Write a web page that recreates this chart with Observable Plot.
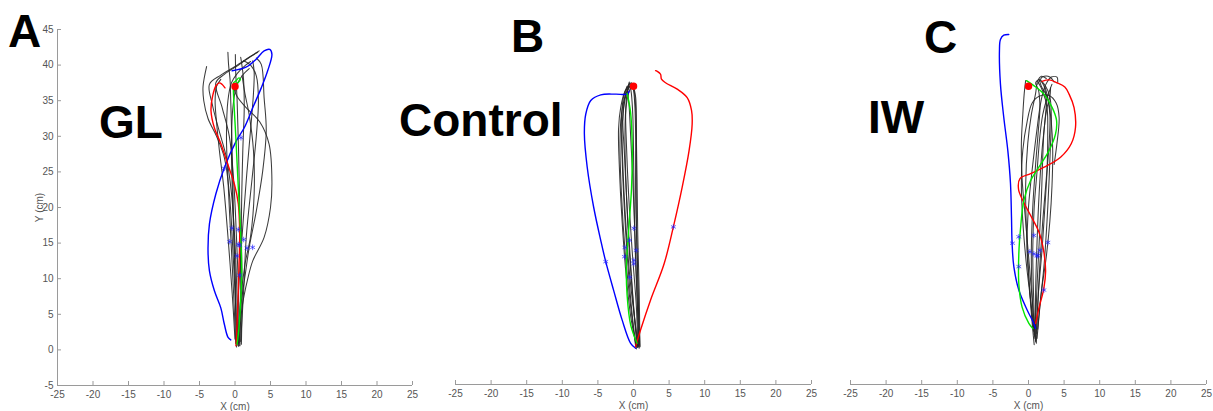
<!DOCTYPE html>
<html><head><meta charset="utf-8">
<script src="https://cdn.jsdelivr.net/npm/d3@7"></script>
<script src="https://cdn.jsdelivr.net/npm/@observablehq/plot@0.6"></script>
<style>
body{margin:0;background:#fff;}
#wrap{position:relative;width:1213px;height:411px;overflow:hidden;font-family:"Liberation Sans",Arial,sans-serif;}
#wrap svg{position:absolute;top:0;}
</style></head><body><div id="wrap"></div>
<script>
// ---------- axes ----------
const xDomain = [-25, 25];
const yDomain = [-5, 45];
const xTicks = [-25, -20, -15, -10, -5, 0, 5, 10, 15, 20, 25];
const yTicks = [-5, 0, 5, 10, 15, 20, 25, 30, 35, 40, 45];
const panelLetters = ["A", "B", "C"];
const conditionNames = ["GL", "Control", "IW"];
const target = [[0, 37]];

// ---------- Panel A (GL) ----------
const blackA = [
  [[0.3,0.8],[0.1,6],[-0.3,14],[-0.8,22],[-1.5,27],[-2.6,30],[-3.8,32.5],[-4.4,35],[-4.5,37],[-4.0,39.8]],
  [[0.5,0.5],[0.3,7],[0,15],[-0.5,22],[-1.2,27],[-2.3,31],[-3.2,34.5],[-3.6,37.3],[-2,38.6],[0,39.8],[2,41.1],[3.4,42.0]],
  [[0.6,0.6],[0.5,8],[0.2,16],[-0.2,24],[-0.8,30],[-1.8,34],[-2.7,37.5],[-1.5,38.7],[0.5,40],[2.2,41.2],[3.2,41.8]],
  [[0.2,1],[0.1,8],[-0.2,18],[-0.4,28],[-0.6,35],[-0.7,38],[-0.9,40],[-1.0,41.8]],
  [[0.7,0.6],[0.8,8],[0.7,18],[0.5,28],[0.3,35],[0.1,39],[0.05,41.5]],
  [[0.6,1],[1.0,6],[1.8,10],[2.5,12.5],[4.1,15.8],[5.0,20],[5.2,23.7],[4.8,28.9],[3.5,32],[1.6,34],[0.3,35.6],[-0.3,37.2]],
  [[0.4,1],[0.8,6],[1.5,11],[2.0,14.4],[3.0,19.5],[3.9,25.1],[4.4,30.8],[4.1,35.4],[3.7,40.1],[3.0,41]],
  [[0.3,0.6],[0.5,8],[1.0,16],[1.6,24],[2.2,31],[2.6,36],[2.7,39],[2.5,40.6]],
  [[0.1,0.9],[-0.2,8],[-0.6,16],[-1.0,24],[-1.2,30],[-1.0,35],[-0.5,37.5],[0.3,38.8],[1.5,40],[2.2,40.5]],
  [[0.8,1.2],[1.2,8],[1.6,16],[2.4,24],[3.0,30],[3.3,35],[3.0,38.5],[2.2,40],[1.2,40.6]],
  [[0.0,1.5],[-0.4,8],[-1.0,16],[-1.6,23],[-2.2,28],[-2.6,32],[-2.8,35],[-2.6,37],[-2.0,38]],
  [[0.9,0.8],[1.0,8],[0.9,18],[1.1,28],[1.3,34],[1.2,38],[0.9,40.5],[0.8,41.1]],
  [[0.2,0.4],[0.0,10],[-0.3,20],[-0.5,28],[-0.3,34],[0.2,37],[1.0,38.5],[2.0,39.5]],
  [[0.5,0.9],[0.7,6],[1.4,12],[2.2,16],[2.7,22],[2.6,28],[2.0,33],[1.4,36],[1.0,38.5]]
];
const blueA = [[-0.6,1.4],[-1.0,1.8],[-1.5,3.6],[-2.0,5.9],[-2.9,8.3],[-3.6,11.1],[-3.8,14],[-3.6,17.7],[-2.7,21.9],[-1.5,25.6],[0.2,29.4],[1.3,31.2],[2.5,34.0],[3.7,36.8],[4.6,39.2],[5.2,41.5],[4.9,42.2],[4.1,42.0],[2.95,40.8],[1.55,39.7],[-0.4,39.2]];
const redA = [[0.14,0.6],[0.23,2.2],[0.42,6.9],[0.56,11.6],[0.66,16.2],[0.47,20.5],[-0.09,23.3],[-1.03,26.1],[-1.97,28.9],[-2.91,31.2],[-3.38,33.6],[-3.14,35.7],[-2.67,37.1],[-2.2,37.5],[-1.83,37.3],[-1.41,36.8]];
const greenA = [[0.28,0.8],[0.47,2.2],[0.75,5.9],[0.94,10.6],[0.84,15.3],[0.61,20.0],[0.37,24.7],[0.14,29.4],[-0.09,33.6],[-0.23,36.6],[-0.19,37.5],[0.14,37.8],[0.56,38.2],[0.75,38.0],[0.47,37.6],[0.0,37.4]];
const starsA = [[0.84,29.8],[-1.5,25.5],[-0.42,17.1],[0.47,16.9],[-0.75,15.2],[0.47,14.8],[0.66,14.7],[1.22,15.5],[1.69,14.3],[2.48,14.4],[0.28,13.2],[0.66,10.5]];

// ---------- Panel B (Control) ----------
const blackB = [
  [[0.5,0.2],[-0.3,4],[-1.0,10],[-1.6,18],[-2.0,26],[-2.1,31],[-1.8,34],[-1.2,36.3],[-0.7,37]],
  [[0.7,0.3],[0.2,4],[-0.5,10],[-1.1,18],[-1.5,26],[-1.6,31],[-1.3,34.5],[-0.8,36.6],[-0.4,37.2]],
  [[0.8,0.1],[0.6,5],[0.3,12],[0.1,20],[0.0,28],[-0.1,33],[-0.3,36],[-0.5,37.3]],
  [[0.6,0.4],[0.4,6],[-0.2,14],[-0.7,22],[-1.0,29],[-1.1,33],[-0.9,36],[-0.5,37.4],[-0.1,37.2]],
  [[0.9,0.3],[0.7,6],[0.5,14],[0.3,22],[0.3,30],[0.2,34],[0,36.5],[-0.3,37.5]],
  [[0.4,0.0],[-0.2,5],[-0.8,12],[-1.3,20],[-1.6,27],[-1.7,32],[-1.4,35.5],[-0.9,37]],
  [[0.7,0.5],[0.5,8],[0.2,16],[-0.1,24],[-0.4,30],[-0.6,34],[-0.8,36.5],[-0.6,37.6]],
  [[0.5,0.3],[0.0,6],[-0.6,14],[-1.0,22],[-1.2,30],[-1.0,34.5],[-0.4,36.8],[0.1,37.4]],
  [[0.8,0.6],[0.6,10],[0.4,18],[0.4,26],[0.4,32],[0.3,35.5],[0.0,37]],
  [[0.6,0.2],[0.1,5],[-0.4,12],[-0.9,20],[-1.3,28],[-1.5,32],[-1.3,35],[-0.9,36.8],[-0.5,37.5]],
  [[0.3,0.4],[-0.4,6],[-1.2,14],[-1.7,22],[-1.9,29],[-1.7,33],[-1.1,35.8],[-0.5,37]],
  [[0.9,0.4],[0.8,8],[0.6,16],[0.5,24],[0.4,30],[0.3,34],[0.1,36.3],[-0.2,37.1]]
];
const blueB = [[0.3,0.1],[-0.4,0.8],[-1.6,4.1],[-2.8,8.3],[-3.9,12.3],[-4.6,15.3],[-5.6,20],[-6.5,25.6],[-6.9,30.3],[-6.7,33.1],[-6.0,35],[-4.6,35.8],[-2.5,35.9],[-0.9,35.9],[-0.6,36.3]];
const redB = [[0.28,0.3],[1.0,2.7],[2.4,6.9],[4.3,12.0],[5.6,17.2],[6.84,22.8],[7.8,27.9],[8.24,31.7],[8.15,33.6],[7.54,35.4],[6.14,36.6],[4.5,37.5],[3.93,38.0],[3.8,38.7],[3.33,39.1],[3.1,39.2]];
const greenB = [[0.5,0.8],[-0.4,3.4],[-0.9,7.6],[-1.0,11.8],[-0.66,17],[-0.28,22.6],[-0.18,28.7],[-0.42,33.4],[-0.9,36.0]];
const starsB = [[0.05,17.0],[-0.56,15.3],[-1.2,14.3],[0.38,13.9],[-1.26,13.0],[0.05,12.5],[0.05,12.0],[-0.52,10.1],[-3.9,12.3],[5.6,17.2]];

// ---------- Panel C (IW) ----------
const blackC = [
  [[1.0,1.0],[0.6,6],[0.1,12],[-0.4,18],[-0.9,24],[-1.0,29],[-0.8,33],[-0.6,36],[-0.4,37.8]],
  [[0.9,1.5],[0.4,6],[-0.3,12],[-0.8,18],[-1.0,23],[-0.8,28],[-0.2,32],[0.5,34.6],[1.5,35.6],[2.9,35.7],[3.9,34.6],[4.3,32.6],[4.0,29],[3.6,26]],
  [[1.1,0.8],[1.3,6],[1.6,12],[2.0,18],[2.5,24],[2.9,29],[3.0,33],[2.6,35.5],[1.8,37],[1.5,38]],
  [[1.0,1.2],[1.0,8],[1.2,15],[1.5,22],[1.9,28],[2.3,32],[2.5,35],[2.2,37],[1.7,38],[2.2,38.4],[3.0,38.3],[3.6,37.6]],
  [[0.8,2],[0.5,8],[0.4,14],[0.6,20],[1.0,26],[1.4,31],[1.6,34],[1.4,36.5],[1.0,37.5],[1.5,38]],
  [[1.2,1.5],[1.6,6],[2.2,12],[2.6,18],[2.9,24],[3.1,29],[3.2,33],[3.0,35.5],[2.4,37],[1.6,37.8],[1.3,37.3]],
  [[0.7,2.5],[0.2,8],[-0.2,14],[0.0,20],[0.6,26],[1.2,31],[1.6,34],[2.0,36],[2.4,37.2],[3.2,38.3],[4.0,38.3],[4.1,37.6]],
  [[1.0,3.0],[1.2,9],[1.5,15],[1.8,21],[2.0,27],[2.2,31],[2.6,34],[3.0,35.5],[3.1,36.8]],
  [[0.9,1.8],[0.7,8],[0.6,14],[0.8,20],[1.2,25],[1.6,30],[2.0,33],[2.5,35],[3.0,36.5],[3.3,37.3]],
  [[1.1,2.2],[1.4,8],[1.9,14],[2.3,20],[2.6,25],[2.7,30],[2.6,34],[2.0,36.3],[1.4,37.5]],
  [[0.8,0.6],[0.4,5],[0.0,11],[-0.3,17],[-0.4,23],[-0.1,29],[0.4,33],[1.0,36],[1.3,37.8],[1.8,38.4],[2.5,38.1]],
  [[1.3,2.8],[1.8,8],[2.5,13],[3.0,18],[3.3,23],[3.4,28],[3.2,32],[2.8,35],[2.3,37]]
];
const blueC = [[0.98,2.9],[0.75,3.6],[-0.19,5.5],[-1.36,8.3],[-2.06,11.6],[-2.3,14.8],[-2.39,18.6],[-2.53,23.3],[-2.9,27.9],[-3.47,32.6],[-3.94,37.3],[-4.08,42.0],[-3.94,43.6],[-3.47,44.2],[-2.77,44.3]];
const redC = [[1.0,3.6],[1.45,5.7],[2.15,8.5],[2.4,10.9],[2.15,13.7],[1.45,16.5],[0.3,18.8],[-0.7,20.7],[-1.4,22.5],[-1.2,24.0],[0.3,24.7],[2.2,25.6],[4.5,27.0],[6.0,28.9],[6.6,31.2],[6.4,34.0],[5.7,35.9],[5.1,36.9],[4.0,37.5],[2.9,37.9],[1.9,37.7]];
const greenC = [[0.6,2.9],[0.05,3.6],[-0.9,5.9],[-1.36,9.2],[-1.36,13.4],[-1.1,17.2],[-0.66,20.9],[0.28,23.7],[1.45,25.6],[2.86,27.9],[3.8,30.3],[3.94,32.2],[3.33,34.0],[2.16,35.9],[0.75,37.1],[-0.28,37.8]];
const starsC = [[-2.25,14.9],[-1.36,15.8],[2.72,15.0],[0.75,16.0],[0.19,13.7],[0.75,13.4],[1.6,13.9],[1.2,13.1],[1.31,13.2],[-1.36,11.6],[2.16,8.3]];

// ---------- drawing ----------
const toRows = lines => lines.flatMap((pts, i) => pts.map(([x, y]) => ({id: i, x, y})));
const toPts = pts => pts.map(([x, y]) => ({x, y}));
const fmt = d => String(d);

function panel(cfg) {
  const marks = [
    Plot.ruleY([yDomain[0]], {stroke: "#9a9a9a", strokeWidth: 1}),
    Plot.axisX(xTicks, {tickSize: -4, tickPadding: 9, tickFormat: fmt, stroke: "#9a9a9a", fill: "#555",
      label: "X (cm)", labelAnchor: "center", labelArrow: "none", labelOffset: 24, fontSize: 10})
  ];
  if (cfg.showY) {
    marks.push(Plot.ruleX([xDomain[0]], {stroke: "#9a9a9a", strokeWidth: 1}));
    marks.push(Plot.axisY(yTicks, {tickSize: -4, tickPadding: 8, tickFormat: fmt, stroke: "#9a9a9a", fill: "#555",
      label: "Y (cm)", labelAnchor: "center", labelArrow: "none", labelOffset: 22, fontSize: 10}));
  }
  marks.push(
    Plot.line(toRows(cfg.black), {x: "x", y: "y", z: "id", stroke: "#262626", strokeWidth: 1.05, strokeOpacity: 0.9, curve: "catmull-rom"}),
    Plot.line(toPts(cfg.blue), {x: "x", y: "y", stroke: "#0000ff", strokeWidth: 1.4, curve: "catmull-rom"}),
    Plot.line(toPts(cfg.red), {x: "x", y: "y", stroke: "#ff0000", strokeWidth: 1.4, curve: "catmull-rom"}),
    Plot.line(toPts(cfg.green), {x: "x", y: "y", stroke: "#00e600", strokeWidth: 1.4, curve: "catmull-rom"}),
    Plot.dot(toPts(cfg.stars), {x: "x", y: "y", symbol: "asterisk", r: 2.6, stroke: "#2020ff", strokeWidth: 0.8, strokeOpacity: 0.85}),
    Plot.dot(toPts(target), {x: "x", y: "y", r: 3, fill: "#ff0000", stroke: "#ff0000"})
  );
  const svg = Plot.plot({
    width: cfg.width, height: 411,
    marginLeft: cfg.ml, marginRight: cfg.mr, marginTop: 29, marginBottom: cfg.mb,
    x: {domain: xDomain},
    y: {domain: yDomain, axis: cfg.showY ? undefined : null},
    style: {fontFamily: "'Liberation Sans', Arial, sans-serif", fontSize: "10px", background: "transparent", overflow: "visible"},
    marks
  });
  svg.style.left = cfg.left + "px";
  document.getElementById("wrap").appendChild(svg);
}

panel({left: 0, width: 420, ml: 57, mr: 8, mb: 26, showY: true, black: blackA, blue: blueA, red: redA, green: greenA, stars: starsA});
panel({left: 420, width: 400, ml: 35, mr: 9, mb: 27, showY: false, black: blackB, blue: blueB, red: redB, green: greenB, stars: starsB});
panel({left: 820, width: 393, ml: 30, mr: 7, mb: 27, showY: false, black: blackC, blue: blueC, red: redC, green: greenC, stars: starsC});

// big panel letters and condition names (annotations)
const overlay = d3.select("#wrap").append("svg").attr("width", 1213).attr("height", 411).style("left", "0px").style("pointer-events", "none");
const labelPos = [
  {t: panelLetters[0], x: 8, y: 47}, {t: conditionNames[0], x: 99, y: 138},
  {t: panelLetters[1], x: 511, y: 52}, {t: conditionNames[1], x: 399, y: 136},
  {t: panelLetters[2], x: 924, y: 53}, {t: conditionNames[2], x: 868, y: 133}
];
overlay.selectAll("text").data(labelPos).join("text")
  .attr("x", d => d.x).attr("y", d => d.y).text(d => d.t)
  .attr("font-family", "'Liberation Sans', Arial, sans-serif").attr("font-weight", "bold")
  .attr("font-size", 46).attr("fill", "#000");
</script></body></html>
